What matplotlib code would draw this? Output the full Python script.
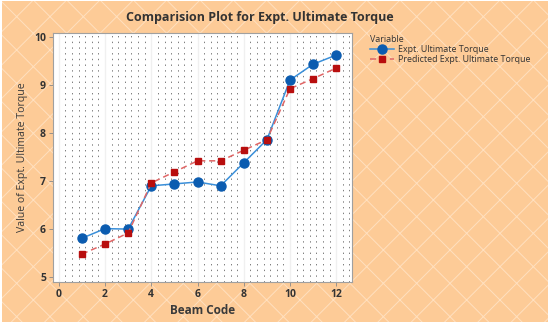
import numpy as np
import matplotlib
matplotlib.use("Agg")
import matplotlib.pyplot as plt
from matplotlib.patches import Rectangle
from matplotlib.ticker import MultipleLocator

# data
beam = [1, 2, 3, 4, 5, 6, 7, 8, 9, 10, 11, 12]
expt = [5.81, 6.01, 6.00, 6.90, 6.94, 6.98, 6.90, 7.38, 7.86, 9.10, 9.43, 9.62]
pred = [5.48, 5.69, 5.92, 6.96, 7.19, 7.42, 7.42, 7.64, 7.86, 8.92, 9.13, 9.35]
xticks = [0, 2, 4, 6, 8, 10, 12]
yticks = [5, 6, 7, 8, 9, 10]

plt.rcParams['font.family'] = ['Open Sans', 'DejaVu Sans']
plt.rcParams['hatch.color'] = '#FFE0C0'
plt.rcParams['hatch.linewidth'] = 0.7

fig = plt.figure(figsize=(5.5, 3.26), dpi=100)
fig.patch.set_facecolor('white')
bg = Rectangle((0.004, 0.012), 0.992, 0.984, transform=fig.transFigure,
               facecolor='#FDCB97', edgecolor='#FFE0C0', hatch='x', linewidth=0,
               zorder=-10)
fig.patches.append(bg)

ax = fig.add_axes([0.0964, 0.135, 0.5436, 0.764])
ax.set_facecolor('white')

# dotted background texture
ax.xaxis.set_minor_locator(MultipleLocator(2 / 7))
ax.grid(which='minor', axis='x', color='#808080', linewidth=0.72,
        linestyle=(0, (1.4, 4.3)))
ax.grid(which='major', axis='x', color='#f0f0f0', linewidth=1.0)
ax.tick_params(which='minor', length=0)
ax.set_axisbelow(True)

ax.plot(beam, expt, color='#3A8FD9', linewidth=1.1, marker='o',
        markersize=6.5, markerfacecolor='#0B5CB0', markeredgecolor='#0B5CB0',
        label='Expt. Ultimate Torque', zorder=3)
ax.plot(beam, pred, color='#E06666', linewidth=1.1, linestyle=(0, (4, 2.5)),
        marker='s', markersize=4.5, markerfacecolor='#B80E0E',
        markeredgecolor='#B80E0E', label='Predicted Expt. Ultimate Torque', zorder=3)

ax.set_xlim(-0.25, 12.68)
ax.set_ylim(4.9, 10.08)
ax.set_xticks(xticks)
ax.set_yticks(yticks)
for lbl in ax.get_xticklabels() + ax.get_yticklabels():
    lbl.set_fontweight('bold')
    lbl.set_fontsize(7.5)
    lbl.set_color('#333333')
ax.tick_params(which='major', length=3, width=0.6, color='#888888', pad=2)
for s in ax.spines.values():
    s.set_color('#a0a0a0')
    s.set_linewidth(0.8)

ax.set_xlabel('Beam Code', fontsize=8.5, fontweight='bold', color='#3a3a3a', labelpad=3)
ax.set_ylabel('Value of Expt. Ultimate Torque', fontsize=7.6, color='#3a3a3a',
              labelpad=6)
ax.yaxis.set_label_coords(-0.085, 0.5)

fig.text(0.473, 0.945, 'Comparision Plot for Expt. Ultimate Torque', ha='center',
         va='center', fontsize=9, fontweight='bold', color='#333333')

leg = ax.legend(loc='upper left', bbox_to_anchor=(0.667, 0.905),
                bbox_transform=fig.transFigure, frameon=False, fontsize=6.4,
                title='Variable', title_fontsize=6.4, handlelength=2.6,
                borderaxespad=0, labelspacing=0.15, handletextpad=0.5)
leg._legend_box.align = 'left'
for t in leg.get_texts():
    t.set_color('#333333')
leg.get_title().set_color('#333333')

fig.savefig('out.png', dpi=100, facecolor=fig.get_facecolor())
